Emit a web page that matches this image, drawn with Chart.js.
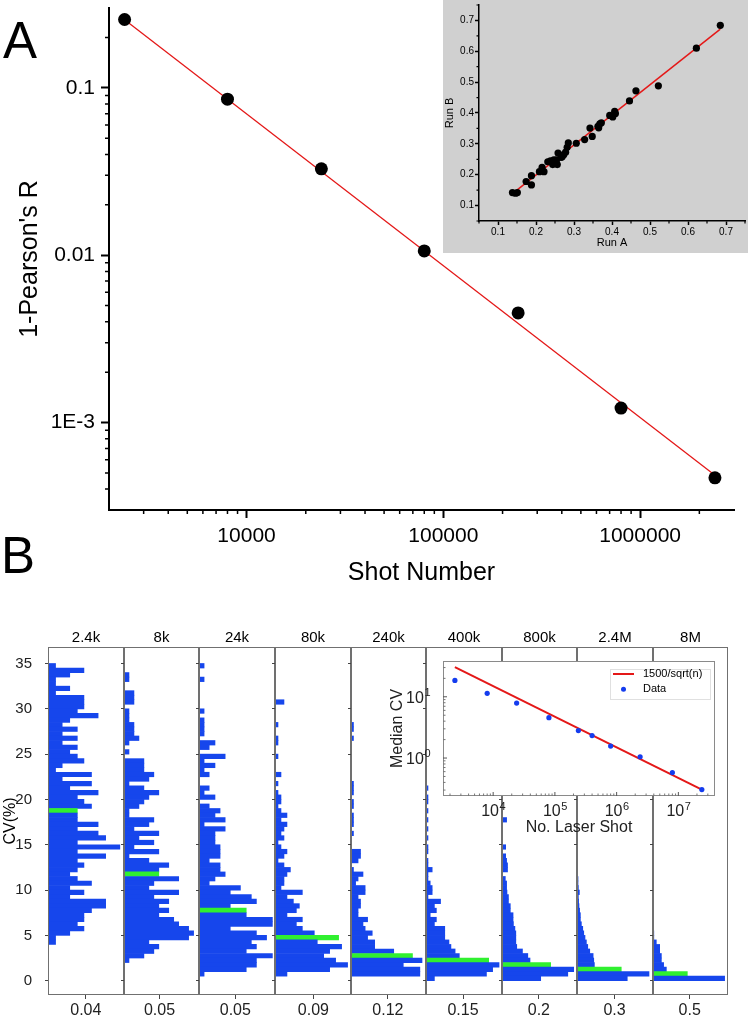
<!DOCTYPE html>
<html>
<head>
<meta charset="utf-8">
<script src="https://cdn.jsdelivr.net/npm/chart.js@4.4.1/dist/chart.umd.min.js"></script>
<style>
  html, body { margin: 0; padding: 0; background: #fff; }
  body { width: 750px; height: 1020px; position: relative; overflow: hidden;
         font-family: 'Liberation Sans', Arial, sans-serif; }
  .box { position: absolute; }
  .panel-letter { position: absolute; font-size: 51px; line-height: 51px; color: #000; }
</style>
</head>
<body>
<div class="panel-letter" style="left:3px;top:15px">A</div>
<div class="panel-letter" style="left:1px;top:530px">B</div>
<div class="box" style="left:0;top:0;width:750px;height:600px"><canvas id="chartA"></canvas></div>
<div class="box" style="left:443px;top:0;width:305px;height:253px;background:#d0d0d0"><canvas id="chartInsetA"></canvas></div>
<div id="colsB"></div>
<div class="box" style="left:385px;top:655px;width:335px;height:186px"><canvas id="chartInsetB"></canvas></div>

<script>
// ---------------- Panel A: 1 - Pearson's R vs shot number ----------------
const shotNumbers = [2400, 8000, 24000, 80000, 240000, 800000, 2400000];
const oneMinusR = [0.256, 0.0856, 0.0328, 0.0106, 0.00452, 0.00122, 0.000467];
const fitShots = [2400, 2400000];
const fitOneMinusR = [0.255, 0.000484];
const xTicksA = [10000, 100000, 1000000];
const xTickLabelsA = ['10000', '100000', '1000000'];
const yTicksA = [0.001, 0.01, 0.1];
const yTickLabelsA = ['1E-3', '0.01', '0.1'];

// inset A: run A vs run B
const runA = [0.138, 0.146, 0.151, 0.174, 0.188, 0.188, 0.209, 0.216, 0.221, 0.231,
              0.238, 0.247, 0.244, 0.254, 0.256, 0.258, 0.266, 0.273, 0.278, 0.282,
              0.285, 0.306, 0.328, 0.342, 0.348, 0.363, 0.368, 0.372, 0.365, 0.394,
              0.402, 0.407, 0.409, 0.446, 0.463, 0.522, 0.622, 0.685, 0.252, 0.269];
const runB = [0.142, 0.140, 0.142, 0.178, 0.197, 0.167, 0.210, 0.224, 0.210, 0.242,
              0.245, 0.248, 0.233, 0.248, 0.233, 0.270, 0.256, 0.265, 0.273, 0.289,
              0.303, 0.302, 0.314, 0.351, 0.324, 0.357, 0.365, 0.368, 0.352, 0.392,
              0.387, 0.405, 0.398, 0.439, 0.472, 0.488, 0.610, 0.684, 0.240, 0.258];
const runFitA = [0.138, 0.685];
const runFitB = [0.139, 0.672];
const runTicks = [0.1, 0.2, 0.3, 0.4, 0.5, 0.6, 0.7];
const runMinorTicks = [0.05, 0.15, 0.25, 0.35, 0.45, 0.55, 0.65, 0.75];

// ---------------- Panel B: CV histograms per shot number ----------------
const shotLabels = ['2.4k', '8k', '24k', '80k', '240k', '400k', '800k', '2.4M', '8M'];
const densityTickValues = [0.04, 0.05, 0.05, 0.09, 0.12, 0.15, 0.2, 0.3, 0.5];
const densityTickLabels = ['0.04', '0.05', '0.05', '0.09', '0.12', '0.15', '0.2', '0.3', '0.5'];
const densityMax = [0.0804, 0.1056, 0.1046, 0.178, 0.244, 0.308, 0.407, 0.608, 1.023];
const cvTicks = [0, 5, 10, 15, 20, 25, 30, 35];
const medianBins = [18.75, 11.75, 7.75, 4.75, 2.75, 2.25, 1.75, 1.25, 0.75];

// bin centres (CV %), top to bottom
const cvBins = [
  34.75, 34.25, 33.75, 33.25, 32.75, 32.25, 31.75, 31.25, 30.75, 30.25,
  29.75, 29.25, 28.75, 28.25, 27.75, 27.25, 26.75, 26.25, 25.75, 25.25,
  24.75, 24.25, 23.75, 23.25, 22.75, 22.25, 21.75, 21.25, 20.75, 20.25,
  19.75, 19.25, 18.75, 18.25, 17.75, 17.25, 16.75, 16.25, 15.75, 15.25,
  14.75, 14.25, 13.75, 13.25, 12.75, 12.25, 11.75, 11.25, 10.75, 10.25,
  9.75, 9.25, 8.75, 8.25, 7.75, 7.25, 6.75, 6.25, 5.75, 5.25,
  4.75, 4.25, 3.75, 3.25, 2.75, 2.25, 1.75, 1.25, 0.75, 0.25
];

const hist2p4k = [
  0.008, 0.038, 0.023, 0.008, 0.008, 0.023, 0.008, 0.038, 0.038, 0.038,
  0.031, 0.053, 0.023, 0.015, 0.031, 0.015, 0.031, 0.015, 0.031, 0.023,
  0.031, 0.038, 0.015, 0.008, 0.046, 0.015, 0.046, 0.023, 0.053, 0.031,
  0.038, 0.046, 0.031, 0.031, 0.031, 0.053, 0.031, 0.053, 0.061, 0.031,
  0.076, 0.031, 0.061, 0.031, 0.038, 0.031, 0.023, 0.031, 0.046, 0.023,
  0.038, 0.023, 0.061, 0.061, 0.046, 0.038, 0.038, 0.031, 0.038, 0.023,
  0.008, 0.008, 0, 0, 0, 0, 0, 0, 0, 0
];
const hist8k = [
  0, 0, 0.007, 0.007, 0, 0, 0.014, 0.014, 0.014, 0,
  0.007, 0.007, 0.007, 0.014, 0.014, 0.014, 0.021, 0.007, 0, 0.007,
  0, 0.028, 0.028, 0.028, 0.042, 0.035, 0.007, 0.028, 0.049, 0.035,
  0.028, 0.021, 0.007, 0.007, 0.042, 0.035, 0.014, 0.049, 0.021, 0.042,
  0.014, 0.049, 0.007, 0.035, 0.063, 0.049, 0.049, 0.077, 0.042, 0.035,
  0.077, 0.042, 0.063, 0.049, 0.063, 0.049, 0.070, 0.077, 0.091, 0.098,
  0.091, 0.035, 0.049, 0.042, 0.028, 0.007, 0, 0, 0, 0
];
const hist24k = [
  0.007, 0, 0, 0.007, 0, 0, 0, 0, 0, 0,
  0.007, 0, 0.007, 0.007, 0.007, 0.007, 0, 0.022, 0.014, 0,
  0.036, 0.007, 0.022, 0.007, 0.014, 0, 0, 0.014, 0.007, 0.022,
  0, 0.014, 0.029, 0.022, 0.036, 0.007, 0.036, 0.022, 0.022, 0.022,
  0.029, 0.029, 0.029, 0.014, 0.029, 0.029, 0.036, 0.022, 0.014, 0.057,
  0.043, 0.072, 0.079, 0.043, 0.065, 0.065, 0.101, 0.101, 0.043, 0.079,
  0.093, 0.072, 0.079, 0.065, 0.101, 0.079, 0.079, 0.065, 0.007, 0
];
const hist80k = [
  0, 0, 0, 0, 0, 0, 0, 0, 0.021, 0,
  0, 0, 0, 0.007, 0, 0, 0.007, 0.007, 0, 0,
  0.007, 0, 0, 0, 0.014, 0, 0.007, 0, 0.007, 0.014,
  0.014, 0.007, 0.014, 0.028, 0.014, 0.028, 0.021, 0.014, 0.021, 0.007,
  0.014, 0.028, 0.021, 0.007, 0.021, 0.036, 0.028, 0.021, 0.021, 0.014,
  0.064, 0.028, 0.043, 0.057, 0.050, 0.028, 0.064, 0.050, 0.064, 0.092,
  0.149, 0.099, 0.156, 0.128, 0.114, 0.142, 0.170, 0.128, 0.028, 0
];
const hist240k = [
  0, 0, 0, 0, 0, 0, 0, 0, 0, 0,
  0, 0, 0, 0.008, 0.008, 0, 0.008, 0, 0, 0,
  0, 0, 0, 0, 0, 0, 0.008, 0.008, 0.008, 0,
  0.008, 0.008, 0, 0.008, 0.008, 0.008, 0, 0.008, 0, 0,
  0, 0.031, 0.031, 0.023, 0, 0.008, 0.039, 0.023, 0.015, 0.046,
  0.046, 0.023, 0.031, 0.031, 0.023, 0.023, 0.054, 0.039, 0.046, 0.069,
  0.054, 0.077, 0.077, 0.139, 0.200, 0.231, 0.170, 0.224, 0.224, 0
];
const hist400k = [
  0, 0, 0, 0, 0, 0, 0, 0, 0, 0,
  0, 0, 0, 0, 0, 0, 0, 0, 0, 0,
  0, 0, 0, 0, 0, 0, 0, 0.008, 0, 0.008,
  0.008, 0, 0.008, 0, 0.008, 0, 0.008, 0, 0.008, 0,
  0.008, 0.008, 0, 0.008, 0.008, 0.025, 0.008, 0.008, 0.017, 0.025,
  0.025, 0.008, 0.059, 0.034, 0.042, 0.017, 0.042, 0.034, 0.076, 0.076,
  0.076, 0.093, 0.101, 0.118, 0.135, 0.254, 0.296, 0.270, 0.245, 0.034
];
const hist800k = [
  0, 0, 0, 0, 0, 0, 0, 0, 0, 0,
  0, 0, 0, 0, 0, 0, 0, 0, 0, 0,
  0, 0, 0, 0, 0, 0, 0, 0, 0, 0,
  0, 0, 0, 0, 0.025, 0, 0, 0, 0, 0,
  0.020, 0, 0.020, 0.025, 0.030, 0.030, 0, 0.018, 0.025, 0.025,
  0.027, 0.035, 0.035, 0.045, 0.045, 0.060, 0.060, 0.062, 0.070, 0.075,
  0.075, 0.075, 0.080, 0.111, 0.140, 0.152, 0.264, 0.389, 0.357, 0.210
];
const hist2p4M = [
  0, 0, 0, 0, 0, 0, 0, 0, 0, 0,
  0, 0, 0, 0, 0, 0, 0, 0, 0, 0,
  0, 0, 0, 0, 0, 0, 0, 0, 0, 0,
  0, 0, 0, 0, 0, 0, 0, 0, 0, 0,
  0, 0, 0.005, 0, 0.005, 0, 0.005, 0.008, 0.008, 0.011,
  0.019, 0.011, 0.013, 0.016, 0.021, 0.027, 0.027, 0.035, 0.046, 0.054,
  0.064, 0.075, 0.086, 0.102, 0.129, 0.134, 0.139, 0.354, 0.576, 0.402
];
const hist8M = [
  0, 0, 0, 0, 0, 0, 0, 0, 0, 0,
  0, 0, 0, 0, 0, 0, 0, 0, 0, 0,
  0, 0, 0, 0, 0, 0, 0, 0, 0, 0,
  0, 0, 0, 0, 0, 0, 0, 0, 0, 0,
  0, 0, 0, 0, 0, 0, 0, 0, 0, 0,
  0, 0, 0, 0, 0, 0, 0.007, 0, 0, 0.011,
  0.011, 0.045, 0.091, 0.091, 0.114, 0.114, 0.145, 0.182, 0.468, 0.977
];
const histograms = [hist2p4k, hist8k, hist24k, hist80k, hist240k, hist400k, hist800k, hist2p4M, hist8M];

// inset B: median CV vs number of laser shots
const laserShots = [2400, 8000, 24000, 80000, 240000, 400000, 800000, 2400000, 8000000, 24000000];
const medianCV = [18.5, 11.4, 7.9, 4.56, 2.81, 2.33, 1.57, 1.05, 0.58, 0.305];
const sqrtFitShots = [2400, 24000000];
const sqrtFitCV = [30.6, 0.306];
const xTicksB = [1e4, 1e5, 1e6, 1e7];
const xTickExpB = ['4', '5', '6', '7'];
const yTicksB = [1, 10];
const yTickExpB = ['0', '1'];

// ---------------- styling ----------------
const FONT = "'Liberation Sans', Arial, sans-serif";
const BLUE = 'rgb(22, 70, 236)';
const GREEN = 'rgb(48, 240, 48)';
const RED = 'rgb(228, 24, 24)';
const FRAME = '#707070';
const colEdges = [48, 124, 199, 275, 351, 426, 502, 577, 653, 728];

Chart.defaults.font.family = FONT;
Chart.defaults.color = '#000';

// fixed axis sizes; also drop the label overflow padding Chart.js adds
function fitWidth(w) {
  return s => { s.width = w; s.paddingTop = 0; s.paddingBottom = 0; };
}
function fitHeight(h) {
  return s => { s.height = h; s.paddingLeft = 0; s.paddingRight = 0; };
}

// minor tick positions for log axes (axis decoration only)
function minorLogTicks(lo, hi) {
  const out = [];
  for (let e = Math.floor(Math.log10(lo)); e <= Math.ceil(Math.log10(hi)); e++) {
    for (let m = 2; m <= 9; m++) {
      const v = m * Math.pow(10, e);
      if (v > lo * 1.0001 && v < hi * 0.9999) out.push(v);
    }
  }
  return out;
}

// box around the plot area, optional fill behind it
const framePlugin = {
  id: 'frame',
  beforeDraw(chart, args, opts) {
    if (!opts.fill) return;
    const a = chart.chartArea;
    chart.ctx.save();
    chart.ctx.fillStyle = opts.fill;
    chart.ctx.fillRect(a.left, a.top, a.width, a.height);
    chart.ctx.restore();
  },
  afterDraw(chart, args, opts) {
    if (!opts.color) return;
    const {ctx, chartArea: a} = chart;
    ctx.save();
    ctx.strokeStyle = opts.color;
    ctx.lineWidth = 1;
    ctx.strokeRect(Math.round(a.left) + 0.5, Math.round(a.top) + 0.5,
                   Math.round(a.width) - 1, Math.round(a.height) - 1);
    ctx.restore();
  }
};

// extra tick marks (minor ticks, or ticks pointing into the plot)
const tickMarksPlugin = {
  id: 'tickMarks',
  afterDraw(chart, args, opts) {
    const ctx = chart.ctx;
    (opts.sets || []).forEach(s => {
      const scale = chart.scales[s.axis];
      const dir = s.inward ? -1 : 1;
      ctx.save();
      ctx.strokeStyle = s.color || '#000';
      ctx.lineWidth = s.width || 1;
      ctx.beginPath();
      s.values.forEach(v => {
        if (v < scale.min || v > scale.max) return;
        const p = scale.getPixelForValue(v);
        if (scale.isHorizontal()) {
          ctx.moveTo(p, scale.top);
          ctx.lineTo(p, scale.top + dir * s.length);
        } else {
          ctx.moveTo(scale.right, p);
          ctx.lineTo(scale.right - dir * s.length, p);
        }
      });
      ctx.stroke();
      ctx.restore();
    });
  }
};

// "10" with a raised exponent as tick labels of the log axes in inset B
const powerLabelsPlugin = {
  id: 'powerLabels',
  afterDraw(chart, args, opts) {
    const ctx = chart.ctx;
    ctx.save();
    ctx.fillStyle = opts.color;
    ctx.textAlign = 'left';
    ctx.textBaseline = 'alphabetic';
    opts.axes.forEach(ax => {
      const scale = chart.scales[ax.axis];
      ax.values.forEach((v, i) => {
        const exp = ax.exponents[i];
        ctx.font = opts.baseSize + 'px ' + FONT;
        const wb = ctx.measureText('10').width;
        ctx.font = opts.expSize + 'px ' + FONT;
        const we = ctx.measureText(exp).width;
        const p = scale.getPixelForValue(v);
        let x0, yBase;
        if (scale.isHorizontal()) {
          x0 = p - (wb + we) / 2;
          yBase = scale.top + ax.offset;
        } else {
          x0 = scale.right - ax.offset - (wb + we);
          yBase = p + opts.baseSize * 0.36;
        }
        ctx.font = opts.baseSize + 'px ' + FONT;
        ctx.fillText('10', x0, yBase);
        ctx.font = opts.expSize + 'px ' + FONT;
        ctx.fillText(exp, x0 + wb + 0.5, yBase - opts.raise);
      });
    });
    ctx.restore();
  }
};

// small legend box inside the plot area of inset B
const insetLegendPlugin = {
  id: 'insetLegend',
  afterDraw(chart, args, opts) {
    const {ctx, chartArea: a} = chart;
    const x0 = Math.round(a.right - opts.right - opts.width);
    const y0 = Math.round(a.top + opts.top);
    ctx.save();
    ctx.strokeStyle = '#e0e0e0';
    ctx.lineWidth = 1;
    ctx.strokeRect(x0 + 0.5, y0 + 0.5, opts.width, opts.height);
    ctx.font = '11px ' + FONT;
    ctx.textBaseline = 'middle';
    opts.items.forEach((it, i) => {
      const ds = chart.data.datasets[it.dataset];
      const y = y0 + opts.firstRow + i * opts.rowGap;
      if (it.kind === 'line') {
        ctx.strokeStyle = ds.borderColor;
        ctx.lineWidth = 2;
        ctx.beginPath();
        ctx.moveTo(x0 + 3, y);
        ctx.lineTo(x0 + 24, y);
        ctx.stroke();
      } else {
        ctx.fillStyle = ds.backgroundColor;
        ctx.beginPath();
        ctx.arc(x0 + 13.5, y, 2.5, 0, Math.PI * 2);
        ctx.fill();
      }
      ctx.fillStyle = '#000';
      ctx.fillText(ds.label, x0 + 33, y);
    });
    ctx.restore();
  }
};

function toPoints(xs, ys) {
  return xs.map((x, i) => ({x: x, y: ys[i]}));
}

// ---------------- Panel A main chart ----------------
new Chart(document.getElementById('chartA'), {
  type: 'scatter',
  data: {
    datasets: [{
      label: '1-Pearson\'s R',
      data: toPoints(shotNumbers, oneMinusR),
      pointRadius: 6.5,
      backgroundColor: '#000',
      borderWidth: 0
    }, {
      label: 'fit',
      data: toPoints(fitShots, fitOneMinusR),
      showLine: true,
      borderColor: RED,
      borderWidth: 1.3,
      pointRadius: 0
    }]
  },
  options: {
    animation: false,
    responsive: true,
    maintainAspectRatio: false,
    layout: { padding: { top: 8, right: 16, left: 0, bottom: 0 }, autoPadding: false },
    plugins: {
      legend: { display: false },
      tooltip: { enabled: false },
      tickMarks: {
        sets: [
          { axis: 'x', values: minorLogTicks(2000, 3e6), length: 4, width: 1.5 },
          { axis: 'y', values: minorLogTicks(3e-4, 0.3), length: 4, width: 1.5 }
        ]
      }
    },
    scales: {
      x: {
        type: 'logarithmic',
        min: 2000,
        max: 3e6,
        afterBuildTicks: s => { s.ticks = xTicksA.map(v => ({value: v})); },
        afterFit: fitHeight(90),
        border: { color: '#000', width: 2 },
        grid: { drawOnChartArea: false, tickLength: 8, tickWidth: 2, tickColor: '#000' },
        ticks: {
          autoSkip: false, maxRotation: 0, padding: 6,
          font: { size: 21 },
          callback: (v, i) => xTickLabelsA[i]
        },
        title: { display: true, text: 'Shot Number', font: { size: 25 }, padding: { top: 0, bottom: 12 } }
      },
      y: {
        type: 'logarithmic',
        min: 3e-4,
        max: 0.3,
        afterBuildTicks: s => { s.ticks = yTicksA.map(v => ({value: v})); },
        afterFit: fitWidth(109),
        border: { color: '#000', width: 2 },
        grid: { drawOnChartArea: false, tickLength: 8, tickWidth: 2, tickColor: '#000' },
        ticks: {
          autoSkip: false, padding: 6,
          font: { size: 21 },
          callback: (v, i) => yTickLabelsA[i]
        },
        title: { display: true, text: '1-Pearson\'s R', font: { size: 25 }, padding: { top: 15, bottom: 0 } }
      }
    }
  },
  plugins: [tickMarksPlugin]
});

// ---------------- inset A ----------------
new Chart(document.getElementById('chartInsetA'), {
  type: 'scatter',
  data: {
    datasets: [{
      label: 'runs',
      data: toPoints(runA, runB),
      pointRadius: 3.6,
      backgroundColor: '#000',
      borderWidth: 0
    }, {
      label: 'fit',
      data: toPoints(runFitA, runFitB),
      showLine: true,
      borderColor: RED,
      borderWidth: 1.5,
      pointRadius: 0
    }]
  },
  options: {
    animation: false,
    responsive: true,
    maintainAspectRatio: false,
    layout: { padding: { top: 5, right: 3, left: 0, bottom: 0 }, autoPadding: false },
    plugins: {
      legend: { display: false },
      tooltip: { enabled: false },
      tickMarks: {
        sets: [
          { axis: 'x', values: runMinorTicks, length: 2.5, width: 1.2 },
          { axis: 'y', values: runMinorTicks, length: 2.5, width: 1.2 }
        ]
      }
    },
    scales: {
      x: {
        type: 'linear', min: 0.05, max: 0.75,
        afterBuildTicks: s => { s.ticks = runTicks.map(v => ({value: v})); },
        afterFit: fitHeight(32),
        border: { color: '#000', width: 1.5 },
        grid: { drawOnChartArea: false, tickLength: 4, tickWidth: 1.5, tickColor: '#000' },
        ticks: { autoSkip: false, maxRotation: 0, padding: 1, font: { size: 10 }, callback: v => v.toFixed(1) },
        title: { display: true, text: 'Run A', font: { size: 11 }, padding: { top: 0, bottom: 3 } }
      },
      y: {
        type: 'linear', min: 0.05, max: 0.75,
        afterBuildTicks: s => { s.ticks = runTicks.map(v => ({value: v})); },
        afterFit: fitWidth(36),
        border: { color: '#000', width: 1.5 },
        grid: { drawOnChartArea: false, tickLength: 4, tickWidth: 1.5, tickColor: '#000' },
        ticks: { autoSkip: false, padding: 1, font: { size: 10 }, callback: v => v.toFixed(1) },
        title: { display: true, text: 'Run B', font: { size: 11 }, padding: { top: 0, bottom: 0 } }
      }
    }
  },
  plugins: [tickMarksPlugin]
});

// ---------------- Panel B histogram columns ----------------
function makeColumnChart(i) {
  const left = colEdges[i];
  const right = colEdges[i + 1];
  const holder = document.createElement('div');
  holder.className = 'box';
  holder.style.left = (left - 48) + 'px';
  holder.style.top = '619px';
  holder.style.width = (right - left + 48) + 'px';
  holder.style.height = '405px';
  const canvas = document.createElement('canvas');
  holder.appendChild(canvas);
  document.getElementById('colsB').appendChild(holder);

  const values = histograms[i];
  const bars = [];
  const colors = [];
  cvBins.forEach((c, k) => {
    if (values[k] > 0) {
      bars.push({ x: values[k], y: c });
      colors.push(c === medianBins[i] ? GREEN : BLUE);
    }
  });

  new Chart(canvas, {
    type: 'bar',
    data: {
      datasets: [{
        label: shotLabels[i],
        data: bars,
        backgroundColor: colors,
        borderWidth: 0,
        barPercentage: 1,
        categoryPercentage: 1
      }]
    },
    options: {
      indexAxis: 'y',
      animation: false,
      responsive: true,
      maintainAspectRatio: false,
      layout: { padding: 0, autoPadding: false },
      plugins: {
        legend: { display: false },
        tooltip: { enabled: false },
        title: {
          display: true, text: shotLabels[i], fullSize: false,
          font: { size: 15, weight: 'normal' }, padding: { top: 10, bottom: 0 }
        },
        frame: { color: FRAME }
      },
      scales: {
        x: {
          type: 'linear', min: 0, max: densityMax[i],
          afterBuildTicks: s => { s.ticks = [{ value: densityTickValues[i] }]; },
          afterFit: fitHeight(29),
          border: { display: false },
          grid: { drawOnChartArea: false, tickLength: 4, tickColor: '#444' },
          ticks: { autoSkip: false, maxRotation: 0, padding: 2, font: { size: 16 }, color: '#222',
                   callback: () => densityTickLabels[i] }
        },
        y: {
          type: 'linear', min: -1.58, max: 36.82, offset: false,
          afterBuildTicks: s => { s.ticks = cvTicks.map(v => ({ value: v })); },
          afterFit: fitWidth(48),
          border: { display: false },
          grid: { drawOnChartArea: false, tickLength: 3, tickColor: '#444', offset: false },
          ticks: { display: i === 0, autoSkip: false, padding: 13, font: { size: 15 }, color: '#222' },
          title: { display: i === 0, text: 'CV(%)', font: { size: 16 }, padding: { top: 1, bottom: 0 } }
        }
      }
    },
    plugins: [framePlugin]
  });
}

for (let i = 0; i < shotLabels.length; i++) {
  makeColumnChart(i);
}

// ---------------- inset B ----------------
new Chart(document.getElementById('chartInsetB'), {
  type: 'scatter',
  data: {
    datasets: [{
      label: 'Data',
      data: toPoints(laserShots, medianCV),
      pointRadius: 2.6,
      backgroundColor: 'rgb(20, 60, 238)',
      borderWidth: 0
    }, {
      label: '1500/sqrt(n)',
      data: toPoints(sqrtFitShots, sqrtFitCV),
      showLine: true,
      borderColor: RED,
      borderWidth: 2,
      pointRadius: 0
    }]
  },
  options: {
    animation: false,
    responsive: true,
    maintainAspectRatio: false,
    layout: { padding: { top: 6, right: 5, left: 0, bottom: 0 }, autoPadding: false },
    plugins: {
      legend: { display: false },
      tooltip: { enabled: false },
      frame: { color: '#8a8a8a', fill: '#fff' },
      tickMarks: {
        sets: [
          { axis: 'x', values: xTicksB, length: 4, width: 1, color: '#555', inward: true },
          { axis: 'x', values: minorLogTicks(1540, 3.92e7), length: 2.5, width: 1, color: '#777', inward: true },
          { axis: 'y', values: yTicksB, length: 4, width: 1, color: '#555', inward: true },
          { axis: 'y', values: minorLogTicks(0.24, 38.4), length: 2.5, width: 1, color: '#777', inward: true }
        ]
      },
      powerLabels: {
        color: '#222', baseSize: 16, expSize: 11, raise: 6.5,
        axes: [
          { axis: 'x', values: xTicksB, exponents: xTickExpB, offset: 20 },
          { axis: 'y', values: yTicksB, exponents: yTickExpB, offset: 13 }
        ]
      },
      insetLegend: {
        right: 5, top: 8, width: 100, height: 30, firstRow: 5, rowGap: 15.3,
        items: [{ dataset: 1, kind: 'line' }, { dataset: 0, kind: 'dot' }]
      }
    },
    scales: {
      x: {
        type: 'logarithmic', min: 1540, max: 3.92e7,
        afterBuildTicks: s => { s.ticks = xTicksB.map(v => ({ value: v })); },
        afterFit: fitHeight(45),
        border: { display: false },
        grid: { display: false },
        ticks: { display: false },
        title: { display: true, text: 'No. Laser Shot', font: { size: 16 }, color: '#222', padding: { top: 0, bottom: 4 } }
      },
      y: {
        type: 'logarithmic', min: 0.24, max: 38.4,
        afterBuildTicks: s => { s.ticks = yTicksB.map(v => ({ value: v })); },
        afterFit: fitWidth(58),
        border: { display: false },
        grid: { display: false },
        ticks: { display: false },
        title: { display: true, text: 'Median CV', font: { size: 16 }, color: '#222', padding: { top: 3, bottom: 0 } }
      }
    }
  },
  plugins: [framePlugin, tickMarksPlugin, powerLabelsPlugin, insetLegendPlugin]
});
</script>
</body>
</html>
